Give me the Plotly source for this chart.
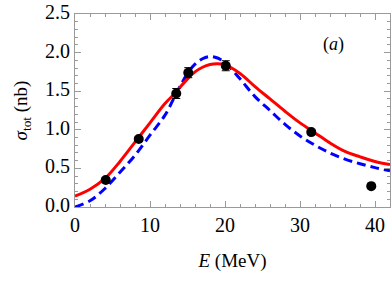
import plotly.graph_objects as go

# Curves
E_curve = [0, 2, 4, 6, 8, 10, 12, 13.5, 14, 15, 16, 17, 18, 19, 20, 22, 24, 26, 28, 30, 32, 34, 36, 38, 40, 42]
red_curve = [0.14, 0.23, 0.37, 0.59, 0.84, 1.09, 1.34, 1.49, 1.55, 1.66, 1.75, 1.81, 1.845, 1.855, 1.84, 1.73, 1.56, 1.40, 1.24, 1.09, 0.96, 0.83, 0.72, 0.65, 0.59, 0.55]
blue_curve = [0.0, 0.08, 0.24, 0.45, 0.67, 0.93, 1.19, 1.47, 1.56, 1.73, 1.85, 1.92, 1.95, 1.93, 1.87, 1.66, 1.43, 1.25, 1.07, 0.92, 0.80, 0.70, 0.62, 0.56, 0.51, 0.47]

# Data points
E_data = [4.1, 8.5, 13.5, 15.1, 20.1, 31.5, 39.5]
sigma_data = [0.35, 0.88, 1.47, 1.74, 1.83, 0.97, 0.27]
sigma_err = [0.03, 0.03, 0.065, 0.065, 0.065, 0.03, 0.02]

x_ticks = [0, 10, 20, 30, 40]
y_ticks = [0.0, 0.5, 1.0, 1.5, 2.0, 2.5]

fig = go.Figure()
fig.add_trace(go.Scatter(x=E_curve, y=blue_curve, mode="lines", line=dict(color="#0000ff", width=3, dash="9px,5px", shape="spline"), showlegend=False))
fig.add_trace(go.Scatter(x=E_curve, y=red_curve, mode="lines", line=dict(color="#ff0000", width=3, shape="spline"), showlegend=False))
fig.add_trace(go.Scatter(x=E_data, y=sigma_data, mode="markers",
                         marker=dict(color="black", size=10),
                         error_y=dict(type="data", array=sigma_err, color="black", thickness=1, width=4),
                         showlegend=False))

font_family = "Liberation Serif, DejaVu Serif, serif"
fig.update_layout(
    width=392, height=284,
    margin=dict(l=75, r=2, t=14, b=77),
    plot_bgcolor="white", paper_bgcolor="white",
    font=dict(family=font_family, size=20, color="black"),
    annotations=[dict(text="(<i>a</i>)", x=0.82, y=0.84, xref="paper", yref="paper",
                      xanchor="center", yanchor="middle",
                      showarrow=False, font=dict(size=18, family=font_family))],
)
fig.update_xaxes(range=[0, 42], tickvals=x_ticks, ticktext=[str(v) for v in x_ticks],
                 showgrid=False, zeroline=False, showline=True, linecolor="#9a9a9a", linewidth=1, mirror="ticks",
                 ticks="inside", ticklen=6, tickcolor="#9a9a9a", automargin=False, ticklabeloverflow="allow",
                 minor=dict(dtick=2, ticks="inside", ticklen=3, tickcolor="#9a9a9a", showgrid=False),
                 title=dict(text="<i>E</i> (MeV)", font=dict(size=19), standoff=18))
fig.update_yaxes(range=[0, 2.5], tickvals=y_ticks, ticktext=[f"{v:.1f}" for v in y_ticks],
                 showgrid=False, zeroline=False, showline=True, linecolor="#9a9a9a", linewidth=1, mirror="ticks",
                 ticks="inside", ticklen=6, tickcolor="#9a9a9a", automargin=False, ticklabeloverflow="allow",
                 ticklabelshift=-2,
                 minor=dict(dtick=0.1, ticks="inside", ticklen=3, tickcolor="#9a9a9a", showgrid=False),
                 title=dict(text="<i>σ</i><sub>tot</sub> (nb)", font=dict(size=19), standoff=12))

fig.write_html("out.html", config={"displayModeBar": False},
               post_script="document.body.style.margin='0';")
